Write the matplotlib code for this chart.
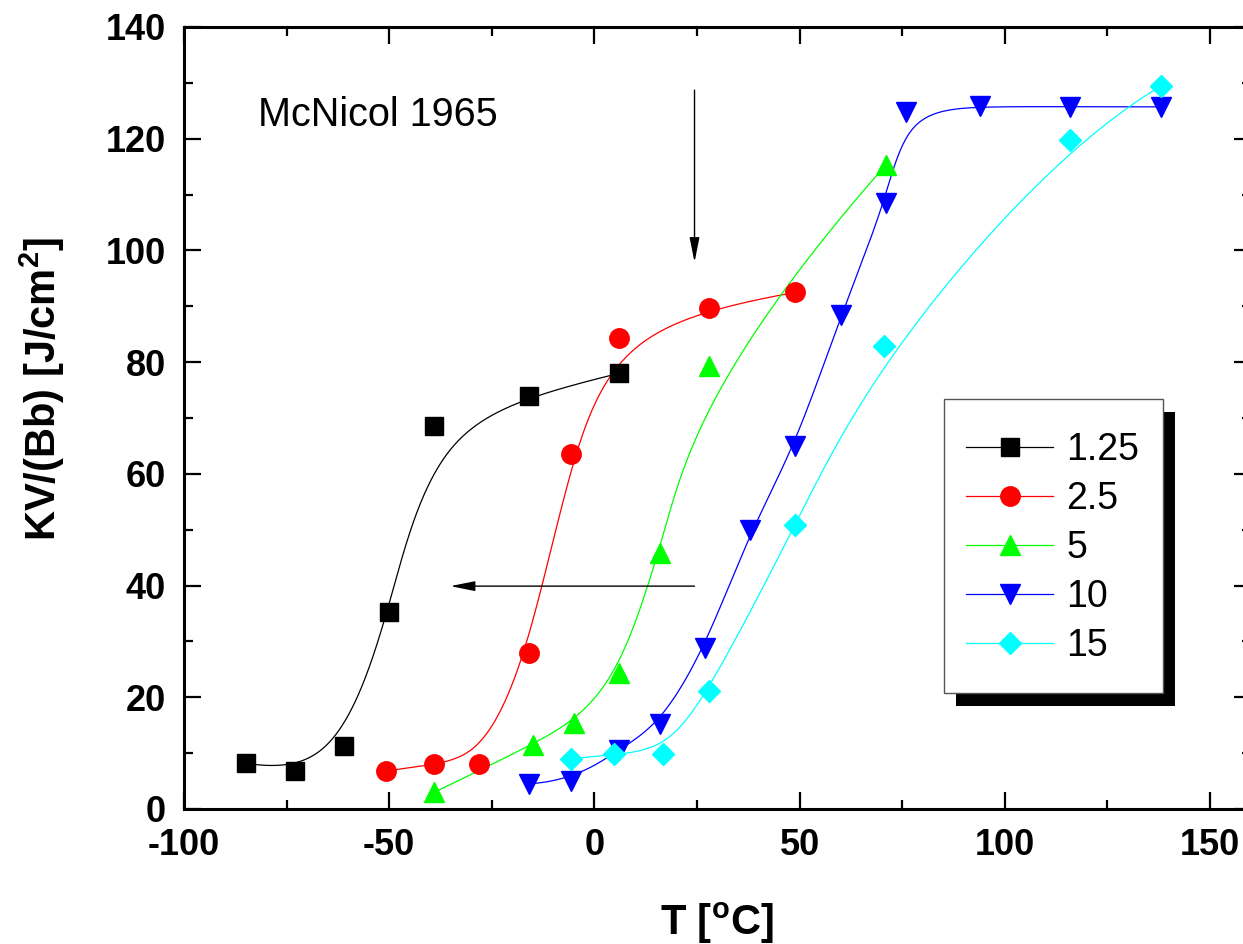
import matplotlib
matplotlib.use("Agg")
import matplotlib.pyplot as plt
import numpy as np
from matplotlib.lines import Line2D
from matplotlib.patches import Rectangle

plt.rcParams['font.family'] = ['Liberation Sans', 'DejaVu Sans']
plt.rcParams['mathtext.fontset'] = 'custom'
plt.rcParams['mathtext.rm'] = 'Liberation Sans'
plt.rcParams['mathtext.bf'] = 'Liberation Sans:bold'
plt.rcParams['axes.unicode_minus'] = False

# Charpy energy vs temperature, one series per thickness
t_125 = [-85, -73, -61, -50, -39, -16, 6]
kv_125 = [8.2, 6.8, 11.3, 35.3, 68.5, 74.0, 78.0]

t_25 = [-50.7, -39, -28, -16, -5.6, 6, 28, 49]
kv_25 = [6.8, 8.1, 8.1, 27.9, 63.6, 84.3, 89.7, 92.5]

t_5 = [-39, -15, -5, 6, 16, 28, 71]
kv_5 = [3.0, 11.5, 15.4, 24.3, 45.8, 79.3, 115.3]

t_10 = [-16, -5.6, 6, 16, 27, 38, 49, 60, 71, 76, 94, 116, 138]
kv_10 = [4.5, 5.0, 10.6, 15.2, 28.8, 49.9, 65.0, 88.4, 108.5, 124.8, 125.9, 125.7, 125.7]

t_15 = [-5.6, 4.9, 16.8, 28, 49, 70.5, 116, 138]
kv_15 = [9.0, 9.8, 9.8, 21.1, 50.8, 82.9, 119.8, 129.4]

labels = ['1.25', '2.5', '5', '10', '15']
colors = ['black', '#ff0000', '#00ff00', '#0000ff', '#00ffff']
markers = ['s', 'o', '^', 'v', 'D']
msizes = [13, 14, 15, 15, 11.5]


def bspline(px, py, k=3, num=400):
    # clamped cubic B-spline using the points as control points
    px = np.asarray(px, float)
    py = np.asarray(py, float)
    n = len(px)
    knots = np.concatenate([np.zeros(k), np.linspace(0, 1, n - k + 1), np.ones(k)])
    t = np.linspace(0, 1, num)
    B = np.zeros((num, len(knots) - 1))
    for i in range(len(knots) - 1):
        B[:, i] = (knots[i] <= t) & (t < knots[i + 1])
    B[-1, n - 1] = 1.0
    for d in range(1, k + 1):
        Bn = np.zeros((num, len(knots) - 1 - d))
        for i in range(len(knots) - 1 - d):
            a = knots[i + d] - knots[i]
            b = knots[i + d + 1] - knots[i + 1]
            if a > 0:
                Bn[:, i] += (t - knots[i]) / a * B[:, i]
            if b > 0:
                Bn[:, i] += (knots[i + d + 1] - t) / b * B[:, i + 1]
        B = Bn
    return B @ px, B @ py


W, H = 1243, 944
fig = plt.figure(figsize=(W / 100, H / 100), dpi=100)
ax = fig.add_axes([184 / W, 135 / H, (1251 - 184) / W, (809 - 27) / H])

series = [(t_125, kv_125), (t_25, kv_25), (t_5, kv_5), (t_10, kv_10), (t_15, kv_15)]
handles = []
for (xs, ys), lab, c, m, ms in zip(series, labels, colors, markers, msizes):
    cx, cy = bspline(xs, ys)
    ax.plot(cx, cy, color=c, lw=0.9, zorder=2)
    ax.plot(xs, ys, linestyle='none', marker=m, ms=ms, color=c, mec=c, zorder=3)
    handles.append(Line2D([], [], color=c, lw=0.9, marker=m, ms=ms, mec=c, label=lab))

ax.set_xlim(-100, 160)
ax.set_ylim(0, 140)
ax.set_xticks(np.arange(-100, 151, 50))
ax.set_xticks(np.arange(-100, 161, 25), minor=True)
ax.set_yticks(np.arange(0, 141, 20))
ax.set_yticks(np.arange(0, 141, 10), minor=True)

for s in ax.spines.values():
    s.set_linewidth(2.2)
ax.tick_params(which='both', direction='in', top=True, right=True, width=1.6)
ax.tick_params(which='major', length=12)
ax.tick_params(which='minor', length=6.5)
ax.tick_params(axis='x', which='major', labelsize=26, pad=14)
ax.tick_params(axis='y', which='major', labelsize=26, pad=13)
for lbl in ax.get_xticklabels() + ax.get_yticklabels():
    lbl.set_fontweight('bold')

fig.text(717 / W, 1 - 935 / H, r'T [$^{\mathbf{o}}$C]', fontsize=30,
         fontweight='bold', ha='center', va='baseline')
fig.text(42 / W, 1 - 389 / H, r'KV/(Bb) [J/cm$^{\mathbf{2}}$]', fontsize=30,
         fontweight='bold', rotation=90, ha='center', va='center')

ax.text(-82, 122.2, 'McNicol 1965', fontsize=28.5, ha='left', va='baseline')

arrow = dict(arrowstyle='-|>,head_length=1.0,head_width=0.2', color='black',
             lw=1.0, mutation_scale=15, shrinkA=0, shrinkB=0)
ax.annotate('', xy=(24.4, 97.9), xytext=(24.4, 128.7), arrowprops=arrow)
ax.annotate('', xy=(-35.1, 39.9), xytext=(24.4, 39.9), arrowprops=arrow)

# legend box with a solid drop shadow
bw, bh = 219 / W, 294 / H
ax.add_patch(Rectangle((956 / W, 1 - 706 / H), bw, bh, transform=fig.transFigure,
                       facecolor='black', edgecolor='none', clip_on=False, zorder=4))
ax.add_patch(Rectangle((944 / W, 1 - 693 / H), bw, bh, transform=fig.transFigure,
                       facecolor='white', edgecolor='#555555', lw=1.0, clip_on=False,
                       zorder=4.5))
ax.legend(handles=handles, loc='center left', bbox_to_anchor=(966 / W, 1 - 548 / H),
          bbox_transform=fig.transFigure, frameon=False, fontsize=27, borderpad=0,
          borderaxespad=0, handlelength=2.32, handletextpad=0.35, labelspacing=0.345)

fig.savefig('out.png', dpi=100)
